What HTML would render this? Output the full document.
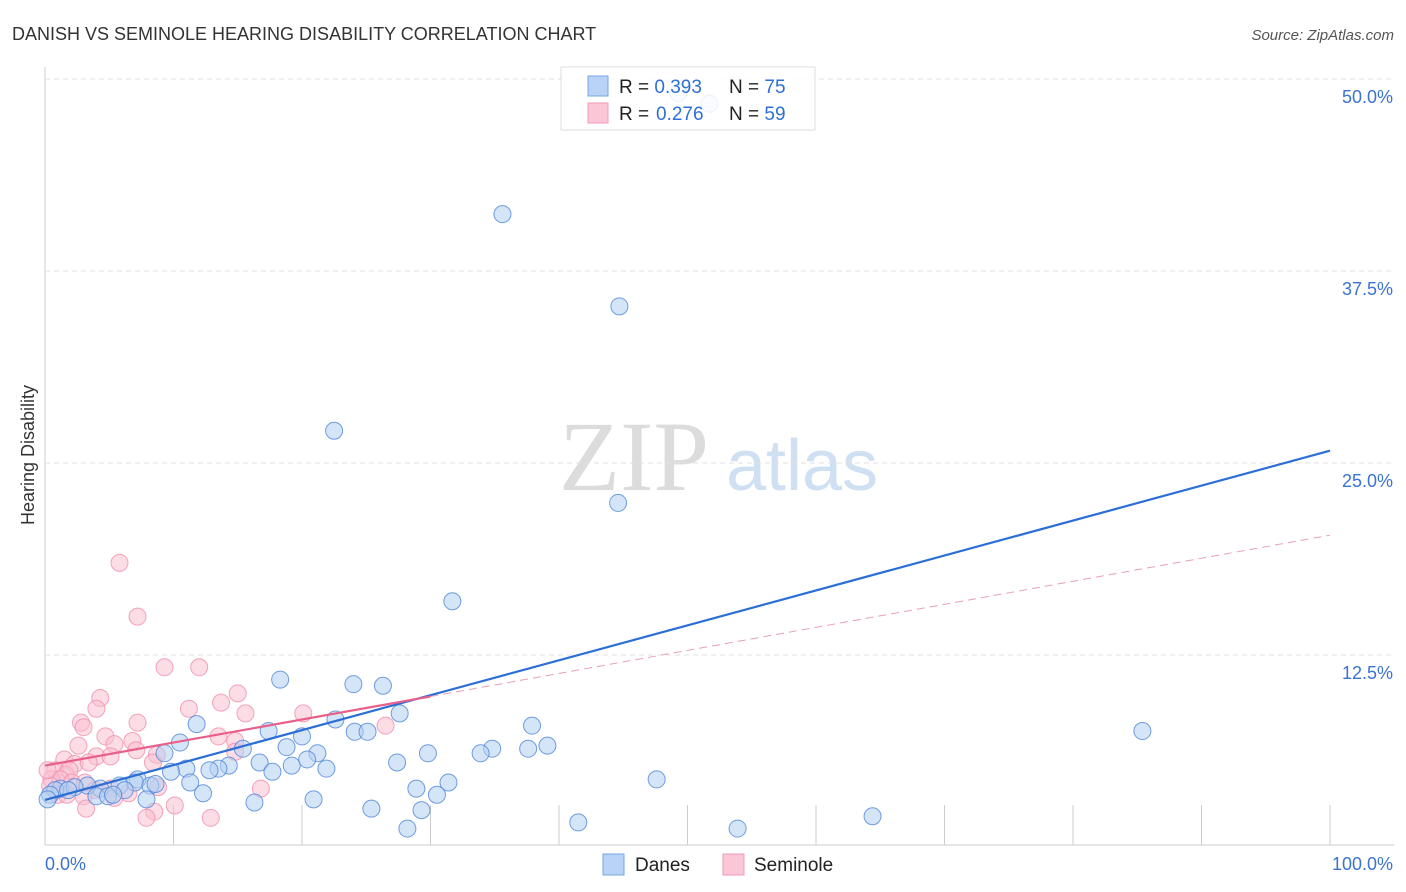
<!DOCTYPE html>
<html><head><meta charset="utf-8">
<style>
body{margin:0;background:#fff;font-family:"Liberation Sans",sans-serif;}
#wrap{position:relative;width:1406px;height:892px;overflow:hidden;}
</style></head>
<body>
<div id="wrap">
<svg id="svg" width="1406" height="892">
<text x="12" y="40" font-size="18" fill="#333">DANISH VS SEMINOLE HEARING DISABILITY CORRELATION CHART</text>
<text x="1394" y="40" font-size="15" fill="#555" font-style="italic" text-anchor="end">Source: ZipAtlas.com</text>
<text transform="translate(34,455) rotate(-90)" font-size="18" fill="#333" text-anchor="middle">Hearing Disability</text>
<g>
<text x="634" y="490" font-family="Liberation Serif,serif" font-size="100" fill="#dcdcdc" text-anchor="middle">ZIP</text>
<text x="802" y="490" font-size="72" fill="#cfe0f3" text-anchor="middle">atlas</text>
</g>
<g id="grid"></g>
<g id="pts"></g>
<g id="lines"></g>
<g>
<rect x="561" y="67" width="254" height="63" fill="#fff" fill-opacity="0.85" stroke="#ddd"/>
<rect x="588" y="76" width="20" height="20" fill="#b8d3f5" stroke="#7aa7e0"/>
<rect x="588" y="103" width="20" height="20" fill="#fbc7d6" stroke="#f09ab4"/>
<text x="619" y="93" font-size="19" fill="#222">R = <tspan fill="#2f6fd6">0.393</tspan><tspan x="729">N = </tspan><tspan fill="#2f6fd6">75</tspan></text>
<text x="619" y="120" font-size="19" fill="#222">R = <tspan fill="#2f6fd6" x="656">0.276</tspan><tspan x="729">N = </tspan><tspan fill="#2f6fd6">59</tspan></text>
</g>
<g>
<rect x="603" y="854" width="21" height="21" fill="#b8d3f5" stroke="#7aa7e0"/>
<text x="635" y="871" font-size="19" fill="#222">Danes</text>
<rect x="723" y="854" width="21" height="21" fill="#fbc7d6" stroke="#f09ab4"/>
<text x="754" y="871" font-size="19" fill="#222">Seminole</text>
</g>
</svg>
</div>
<script>
const yTicks=[12.5,25,37.5,50];
const yTickLabels=["12.5%","25.0%","37.5%","50.0%"];
const xTickLabels=["0.0%","100.0%"];
const danesX=[51.7,49.3,35.6,44.7,22.5,44.6,31.7,18.3,24.0,26.3,27.6,22.6,11.8,37.9,85.4,24.1,25.1,17.4,20.0,10.5,39.1,34.8,33.9,37.6,15.4,18.8,9.3,21.2,29.8,20.4,27.4,16.7,19.2,14.3,13.5,12.8,17.7,21.9,11.0,9.8,7.2,7.0,11.3,47.6,31.4,28.9,8.2,8.6,5.8,4.3,3.3,1.2,0.8,2.3,6.2,12.3,30.5,4.0,4.9,7.9,20.9,16.3,25.4,29.3,64.4,41.5,28.2,53.9,0.4,0.2,1.8,5.3];
const danesY=[48.4,49.1,41.2,35.2,27.1,22.4,16.0,10.9,10.6,10.5,8.7,8.3,8.0,7.9,7.55,7.5,7.5,7.55,7.2,6.8,6.6,6.4,6.1,6.4,6.4,6.5,6.1,6.1,6.1,5.7,5.5,5.5,5.3,5.3,5.1,5.0,4.9,5.1,5.1,4.9,4.4,4.2,4.2,4.4,4.2,3.8,4.0,4.1,4.0,3.8,4.0,3.8,3.7,3.9,3.7,3.5,3.4,3.3,3.3,3.1,3.1,2.9,2.5,2.4,2.0,1.6,1.2,1.2,3.4,3.1,3.7,3.4];
const semX=[5.8,7.2,9.3,12.0,4.3,15.0,4.0,13.7,11.2,15.6,20.1,7.2,2.8,3.0,26.5,4.7,13.5,6.8,2.6,5.4,14.8,7.1,14.8,8.7,4.0,1.5,5.1,8.4,2.3,3.4,0.8,1.6,1.9,0.5,1.2,2.1,3.1,3.9,5.1,6.5,8.8,16.8,3.0,5.4,10.1,3.2,8.5,7.9,12.9,0.4,1.0,0.2,1.7];
const semY=[18.5,15.0,11.7,11.7,9.7,10.0,9.0,9.4,9.0,8.7,8.7,8.1,8.1,7.8,7.9,7.2,7.2,6.9,6.6,6.7,6.9,6.3,6.2,6.0,5.9,5.7,5.9,5.5,5.4,5.5,5.0,4.7,5.0,4.4,4.4,4.2,4.2,3.7,3.8,3.5,3.9,3.8,3.3,3.2,2.7,2.5,2.3,1.9,1.9,4.0,3.4,5.0,3.4];
const danesFit=[3.06,25.8];
const semFit=[5.3,20.3];
const semSolidEnd=30;
const NS="http://www.w3.org/2000/svg";
const X=v=>45+v*12.85, Y=v=>847-v*15.36;
function mk(t,a,p){const e=document.createElementNS(NS,t);for(const k in a)e.setAttribute(k,a[k]);p.appendChild(e);return e;}
const grid=document.getElementById('grid');
mk('line',{x1:45,y1:67,x2:45,y2:845,stroke:'#ccc'},grid);
mk('line',{x1:45,y1:845,x2:1394,y2:845,stroke:'#ccc'},grid);
for(let i=1;i<=10;i++){const l=mk('line',{x1:X(i*10),y1:805,x2:X(i*10),y2:845,stroke:'#ccc'},grid);}
yTicks.forEach((v,i)=>{
 const l=mk('line',{x1:45,y1:Y(v),x2:1394,y2:Y(v),stroke:'#e2e2e2','stroke-dasharray':'5,4'},grid);
 
 const t=mk('text',{x:1393,y:Y(v)+24,'font-size':18,fill:'#3a73d0','text-anchor':'end'},grid);t.textContent=yTickLabels[i];
 
});
let t=mk('text',{x:45,y:870,'font-size':18,fill:'#3a73d0'},grid);t.textContent=xTickLabels[0];

t=mk('text',{x:1393,y:870,'font-size':18,fill:'#3a73d0','text-anchor':'end'},grid);t.textContent=xTickLabels[1];

const pts=document.getElementById('pts');
semX.forEach((x,i)=>{const c=mk('circle',{cx:X(x),cy:Y(semY[i]),r:8.5,fill:'#f9bfd0','fill-opacity':0.55,stroke:'#f08fad','stroke-opacity':0.8},pts);
 });
danesX.forEach((x,i)=>{const c=mk('circle',{cx:X(x),cy:Y(danesY[i]),r:8.5,fill:'#b3cff2','fill-opacity':0.55,stroke:'#4f86d8','stroke-opacity':0.8},pts);
 });
const lines=document.getElementById('lines');
let l=mk('line',{x1:X(0),y1:Y(danesFit[0]),x2:X(100),y2:Y(danesFit[1]),stroke:'#2b6fd6','stroke-width':2.2},lines);

const sy=v=>semFit[0]+(semFit[1]-semFit[0])*v/100;
l=mk('line',{x1:X(0),y1:Y(sy(0)),x2:X(semSolidEnd),y2:Y(sy(semSolidEnd)),stroke:'#e8608a','stroke-width':2.2},lines);

l=mk('line',{x1:X(semSolidEnd),y1:Y(sy(semSolidEnd)),x2:X(100),y2:Y(sy(100)),stroke:'#e8a0b6','stroke-width':1,'stroke-dasharray':'8,5'},lines);

</script>
</body></html>
